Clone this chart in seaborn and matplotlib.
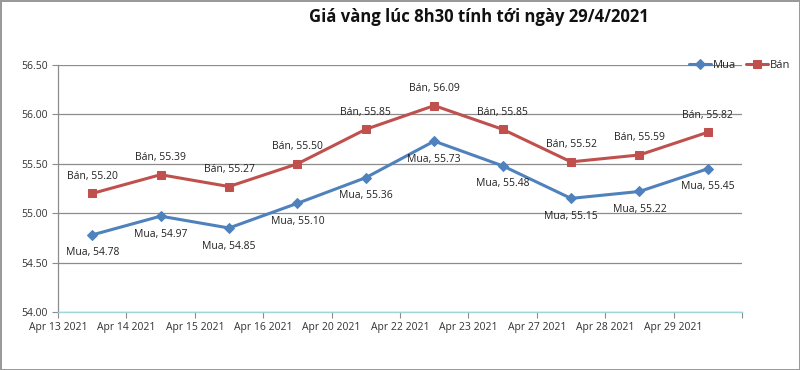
import numpy as np
import pandas as pd
import matplotlib
matplotlib.use("Agg")
import matplotlib.pyplot as plt
import matplotlib.transforms as mtransforms
import seaborn as sns

# data
dates = ["Apr 13 2021", "Apr 14 2021", "Apr 15 2021", "Apr 16 2021", "Apr 20 2021",
         "Apr 22 2021", "Apr 23 2021", "Apr 27 2021", "Apr 28 2021", "Apr 29 2021"]
mua = [54.78, 54.97, 54.85, 55.10, 55.36, 55.73, 55.48, 55.15, 55.22, 55.45]
ban = [55.20, 55.39, 55.27, 55.50, 55.85, 56.09, 55.85, 55.52, 55.59, 55.82]
y_ticks = [54.00, 54.50, 55.00, 55.50, 56.00, 56.50]

title = "Giá vàng lúc 8h30 tính tới ngày 29/4/2021"
blue = "#4F81BD"
red = "#C0504D"

sns.set_theme(style="white")
plt.rcParams['font.family'] = ['Open Sans', 'DejaVu Sans']

df = pd.DataFrame({"pos": np.arange(len(dates)), "date": dates, "Mua": mua, "Bán": ban})

fig = plt.figure(figsize=(8, 3.7), dpi=100)
fig.patch.set_edgecolor("#9a9a9a")
fig.patch.set_linewidth(2)
ax = fig.add_axes([0.0725, 0.157, 0.855, 0.667])

sns.lineplot(data=df, x="pos", y="Mua", ax=ax, color=blue, marker="D", markersize=5,
             markeredgecolor=blue, linewidth=2.2, label="Mua")
sns.lineplot(data=df, x="pos", y="Bán", ax=ax, color=red, marker="s", markersize=6,
             markeredgecolor=red, linewidth=2.2, label="Bán")

# data labels: Bán above, Mua below
for i in range(len(dates)):
    ax.annotate(f"Bán, {ban[i]:.2f}", (i, ban[i]), xytext=(0, 17), textcoords="offset pixels",
                ha="center", va="center", fontsize=7.5, color="#222222")
    ax.annotate(f"Mua, {mua[i]:.2f}", (i, mua[i]), xytext=(0, -18), textcoords="offset pixels",
                ha="center", va="center", fontsize=7.5, color="#222222")

ax.set_xlim(-0.5, len(dates) - 0.5)
ax.set_ylim(54.0, 56.5)
ax.set_yticks(y_ticks)
ax.set_yticklabels([f"{v:.2f}" for v in y_ticks], fontsize=7.5, color="#333333")
ax.yaxis.grid(True, color="#8c8c8c", linewidth=0.9)
ax.set_axisbelow(True)

# category ticks on the boundaries, labels a little to the right
ax.set_xticks(np.arange(len(dates) + 1) - 0.5)
ax.set_xticklabels(dates + [""], fontsize=7.5, color="#333333")
offset = mtransforms.ScaledTranslation(8 / 100, 0, fig.dpi_scale_trans)
for lbl in ax.get_xticklabels():
    lbl.set_transform(lbl.get_transform() + offset)

ax.tick_params(axis="both", which="both", direction="out", length=4, width=0.8,
               colors="#8c8c8c", labelcolor="#333333", bottom=True, left=True)
ax.set_xlabel("")
ax.set_ylabel("")

for side in ["top", "right"]:
    ax.spines[side].set_visible(False)
ax.spines["left"].set_color("#8c8c8c")
ax.spines["bottom"].set_color("#9fd6d8")
ax.spines["left"].set_linewidth(0.9)
ax.spines["bottom"].set_linewidth(1.0)

leg = ax.legend(loc="center right", bbox_to_anchor=(0.993, 0.824), bbox_transform=fig.transFigure,
                ncol=2, frameon=False, fontsize=8, handlelength=2.0, handletextpad=0.15,
                columnspacing=0.9, borderaxespad=0)

fig.text(0.598, 0.955, title, ha="center", va="center", fontsize=12, fontweight="bold",
         color="#111111")

fig.savefig("out.png", dpi=100, edgecolor=fig.get_edgecolor())
